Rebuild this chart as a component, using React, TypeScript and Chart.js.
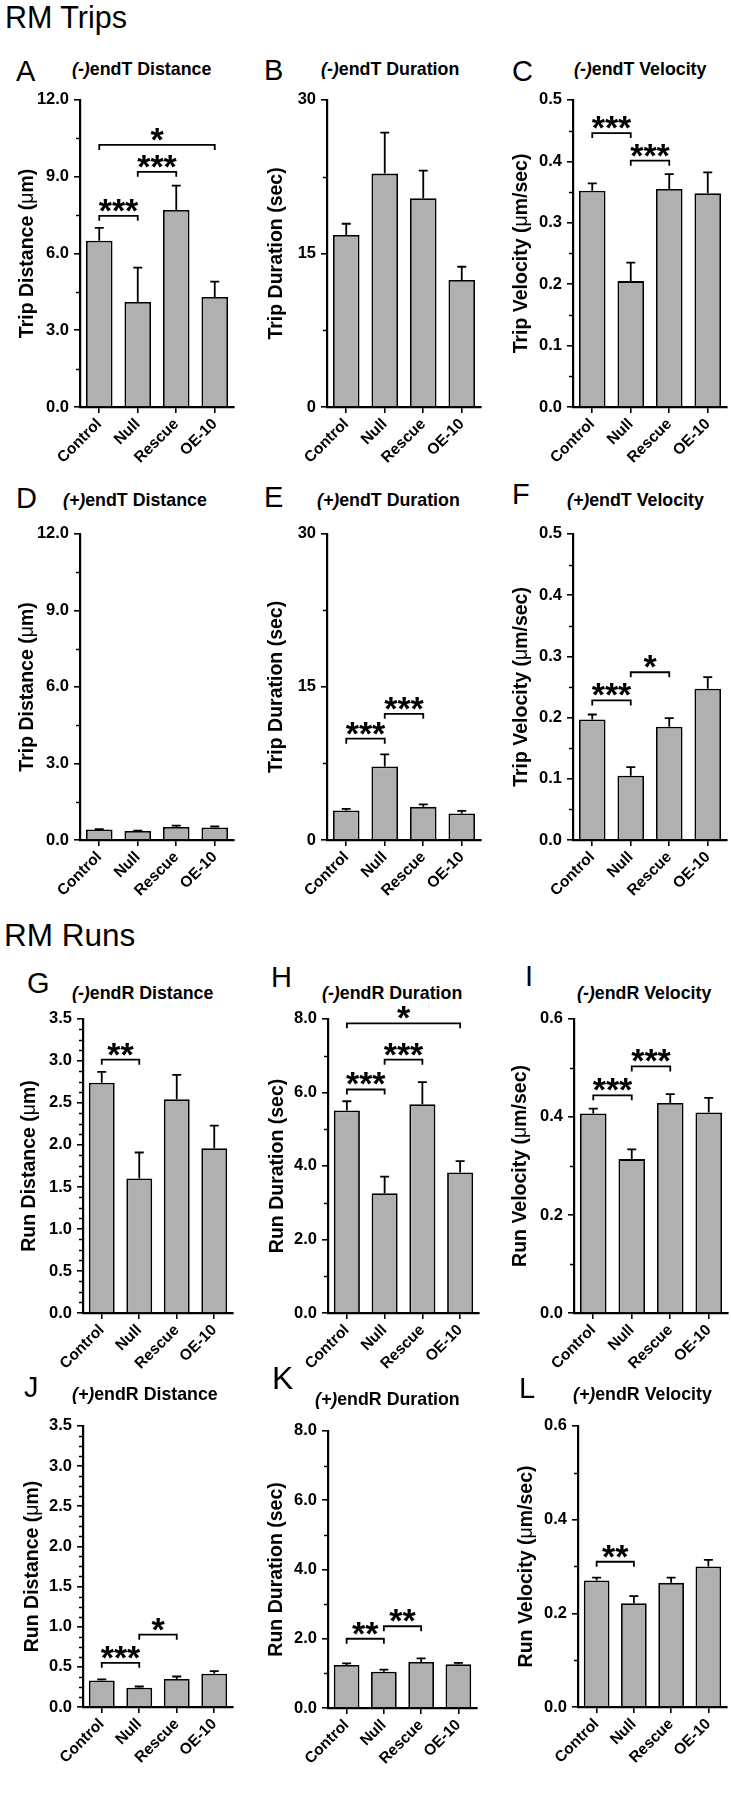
import React, { useEffect, useRef } from "react";
import { Chart, registerables } from "chart.js";

Chart.register(...registerables);

const FONT = '"Liberation Sans", Arial, Helvetica, sans-serif';

const categories = ["Control", "Null", "Rescue", "OE-10"];

// ---------- RM Trips ----------
const minusTripDistance = [6.5, 4.1, 7.7, 4.3];
const minusTripDistanceErr = [0.5, 1.35, 0.95, 0.6];
const minusTripDuration = [16.8, 22.8, 20.4, 12.4];
const minusTripDurationErr = [1.1, 4.0, 2.7, 1.3];
const minusTripVelocity = [0.352, 0.205, 0.355, 0.348];
const minusTripVelocityErr = [0.012, 0.03, 0.024, 0.034];
const plusTripDistance = [0.41, 0.35, 0.51, 0.49];
const plusTripDistanceErr = [0.02, 0.02, 0.05, 0.04];
const plusTripDuration = [2.9, 7.2, 3.25, 2.6];
const plusTripDurationErr = [0.15, 1.2, 0.25, 0.25];
const plusTripVelocity = [0.197, 0.105, 0.185, 0.247];
const plusTripVelocityErr = [0.008, 0.014, 0.014, 0.019];

// ---------- RM Runs ----------
const minusRunDistance = [2.74, 1.6, 2.545, 1.96];
const minusRunDistanceErr = [0.13, 0.31, 0.29, 0.27];
const minusRunDuration = [5.51, 3.26, 5.68, 3.82];
const minusRunDurationErr = [0.25, 0.45, 0.6, 0.31];
const minusRunVelocity = [0.407, 0.314, 0.4285, 0.409];
const minusRunVelocityErr = [0.01, 0.02, 0.018, 0.03];
const plusRunDistance = [0.33, 0.24, 0.35, 0.415];
const plusRunDistanceErr = [0.015, 0.015, 0.03, 0.032];
const plusRunDuration = [1.24, 1.045, 1.33, 1.26];
const plusRunDurationErr = [0.05, 0.065, 0.1, 0.04];
const plusRunVelocity = [0.27, 0.2215, 0.265, 0.3];
const plusRunVelocityErr = [0.006, 0.015, 0.011, 0.014];

// ---------- significance brackets: [from, to, height, label] ----------
const sigMinusTripDistance = [[0, 1, 7.47, "***"], [1, 2, 9.19, "***"], [0, 3, 10.24, "*"]];
const sigMinusTripDuration: any[] = [];
const sigMinusTripVelocity = [[0, 1, 0.446, "***"], [1, 2, 0.401, "***"]];
const sigPlusTripDistance: any[] = [];
const sigPlusTripDuration = [[0, 1, 9.93, "***"], [1, 2, 12.37, "***"]];
const sigPlusTripVelocity = [[0, 1, 0.228, "***"], [1, 2, 0.274, "*"]];
const sigMinusRunDistance = [[0, 1, 3.015, "**"]];
const sigMinusRunDuration = [[0, 3, 7.88, "*"], [1, 2, 6.89, "***"], [0, 1, 6.08, "***"]];
const sigMinusRunVelocity = [[0, 1, 0.444, "***"], [1, 2, 0.503, "***"]];
const sigPlusRunDistance = [[0, 1, 0.55, "***"], [1, 2, 0.9, "*"]];
const sigPlusRunDuration = [[0, 1, 2.0, "**"], [1, 2, 2.36, "**"]];
const sigPlusRunVelocity = [[0, 1, 0.31, "**"]];

// ---------- y tick values ----------
const tripDistanceTicks = [0, 3, 6, 9, 12];
const tripDurationTicks = [0, 15, 30];
const tripVelocityTicks = [0, 0.1, 0.2, 0.3, 0.4, 0.5];
const runDistanceTicks = [0, 0.5, 1, 1.5, 2, 2.5, 3, 3.5];
const runDurationTicks = [0, 2, 4, 6, 8];
const runVelocityTicks = [0, 0.2, 0.4, 0.6];

const colLeft = [0, 243, 488];
const colWidth = [243, 245, 243];

const Y_TITLE_SIZE = 19.5;

const decorPlugin: any = {
  id: "decor",
  afterDatasetsDraw(chart: any, _a: any, o: any) {
    const { ctx } = chart;
    const xs = chart.scales.x;
    const ys = chart.scales.y;
    ctx.save();
    ctx.strokeStyle = "#000";
    ctx.lineWidth = 1.8;
    ctx.lineJoin = "miter";
    o.values.forEach((v: number, i: number) => {
      const cx = xs.getPixelForValue(i);
      const y0 = ys.getPixelForValue(v);
      const y1 = ys.getPixelForValue(v + o.errors[i]);
      ctx.beginPath();
      ctx.moveTo(cx, y0);
      ctx.lineTo(cx, y1);
      ctx.moveTo(cx - 4.5, y1);
      ctx.lineTo(cx + 4.5, y1);
      ctx.stroke();
    });
    o.brackets.forEach((br: any) => {
      const [a, b, h, label] = br;
      const x1 = xs.getPixelForValue(a);
      const x2 = xs.getPixelForValue(b);
      const yy = ys.getPixelForValue(h);
      ctx.beginPath();
      ctx.moveTo(x1, yy + 5);
      ctx.lineTo(x1, yy);
      ctx.lineTo(x2, yy);
      ctx.lineTo(x2, yy + 5);
      ctx.stroke();
      ctx.font = `bold 34px ${FONT}`;
      ctx.fillStyle = "#000";
      ctx.textAlign = "center";
      ctx.textBaseline = "alphabetic";
      const m = ctx.measureText(label);
      const base = yy - 4 - m.actualBoundingBoxDescent;
      ctx.fillText(label, (x1 + x2) / 2, base);
    });
    ctx.restore();
  },
  afterDraw(chart: any, _a: any, o: any) {
    const { ctx, chartArea } = chart;
    const ys = chart.scales.y;
    ctx.save();
    ctx.strokeStyle = "#000";
    ctx.lineWidth = 1.5;
    const t = o.ticks;
    for (let k = 0; k < t.length - 1; k++) {
      for (let s = 1; s < o.minorDiv; s++) {
        const v = t[k] + ((t[k + 1] - t[k]) * s) / o.minorDiv;
        const py = Math.round(ys.getPixelForValue(v)) + 0.5;
        ctx.beginPath();
        ctx.moveTo(chartArea.left - 4, py);
        ctx.lineTo(chartArea.left, py);
        ctx.stroke();
      }
    }
    // y title with non-bold mu
    const parts = String(o.yTitle).split(/(μ)/).filter((p: string) => p.length);
    const fonts = parts.map((p: string) =>
      p === "μ" ? `${Y_TITLE_SIZE}px ${FONT}` : `bold ${Y_TITLE_SIZE}px ${FONT}`
    );
    const widths = parts.map((p: string, i: number) => {
      ctx.font = fonts[i];
      return ctx.measureText(p).width;
    });
    const total = widths.reduce((s: number, w: number) => s + w, 0);
    ctx.translate(o.yTitleX, (chartArea.top + chartArea.bottom) / 2);
    ctx.rotate(-Math.PI / 2);
    ctx.fillStyle = "#000";
    ctx.textAlign = "left";
    ctx.textBaseline = "middle";
    let x = -total / 2;
    parts.forEach((p: string, i: number) => {
      ctx.font = fonts[i];
      ctx.fillText(p, x, 0);
      x += widths[i];
    });
    ctx.restore();
  },
};

type PanelDef = {
  letter: string;
  sign: string;
  name: string;
  yTitle: string;
  values: number[];
  errors: number[];
  sig: any[];
  ticks: number[];
  dec: number;
  minorDiv: number;
  col: number;
  box: number[]; // l, r, t, b
  letterPos: number[]; // x, baseline, size
  titlePos: number[]; // x, baseline
  yTitleX: number;
};

const panels: PanelDef[] = [
  { letter: "A", sign: "(-)", name: "endT Distance", yTitle: "Trip Distance (μm)", values: minusTripDistance, errors: minusTripDistanceErr, sig: sigMinusTripDistance, ticks: tripDistanceTicks, dec: 1, minorDiv: 2, col: 0, box: [80, 234, 99, 407], letterPos: [16, 82, 29], titlePos: [72, 76], yTitleX: 28 },
  { letter: "B", sign: "(-)", name: "endT Duration", yTitle: "Trip Duration (sec)", values: minusTripDuration, errors: minusTripDurationErr, sig: sigMinusTripDuration, ticks: tripDurationTicks, dec: 0, minorDiv: 2, col: 1, box: [327, 481, 99, 407], letterPos: [264, 81, 29], titlePos: [321, 76], yTitleX: 276.5 },
  { letter: "C", sign: "(-)", name: "endT Velocity", yTitle: "Trip Velocity (μm/sec)", values: minusTripVelocity, errors: minusTripVelocityErr, sig: sigMinusTripVelocity, ticks: tripVelocityTicks, dec: 1, minorDiv: 2, col: 2, box: [573, 727, 99, 407], letterPos: [512, 82, 29], titlePos: [574, 76], yTitleX: 522 },
  { letter: "D", sign: "(+)", name: "endT Distance", yTitle: "Trip Distance (μm)", values: plusTripDistance, errors: plusTripDistanceErr, sig: sigPlusTripDistance, ticks: tripDistanceTicks, dec: 1, minorDiv: 2, col: 0, box: [80, 234, 533, 840], letterPos: [16, 509, 29], titlePos: [63, 507], yTitleX: 27.5 },
  { letter: "E", sign: "(+)", name: "endT Duration", yTitle: "Trip Duration (sec)", values: plusTripDuration, errors: plusTripDurationErr, sig: sigPlusTripDuration, ticks: tripDurationTicks, dec: 0, minorDiv: 2, col: 1, box: [327, 481, 533, 840], letterPos: [264, 508, 29], titlePos: [317, 507], yTitleX: 276.5 },
  { letter: "F", sign: "(+)", name: "endT Velocity", yTitle: "Trip Velocity (μm/sec)", values: plusTripVelocity, errors: plusTripVelocityErr, sig: sigPlusTripVelocity, ticks: tripVelocityTicks, dec: 1, minorDiv: 2, col: 2, box: [573, 727, 533, 840], letterPos: [512, 505, 29], titlePos: [567, 507], yTitleX: 521.5 },
  { letter: "G", sign: "(-)", name: "endR Distance", yTitle: "Run Distance (μm)", values: minusRunDistance, errors: minusRunDistanceErr, sig: sigMinusRunDistance, ticks: runDistanceTicks, dec: 1, minorDiv: 4, col: 0, box: [83, 233, 1018, 1313], letterPos: [27, 994, 29], titlePos: [72, 1000], yTitleX: 30 },
  { letter: "H", sign: "(-)", name: "endR Duration", yTitle: "Run Duration (sec)", values: minusRunDuration, errors: minusRunDurationErr, sig: sigMinusRunDuration, ticks: runDurationTicks, dec: 1, minorDiv: 2, col: 1, box: [328, 479, 1018, 1313], letterPos: [271, 988, 29], titlePos: [322, 1000], yTitleX: 278 },
  { letter: "I", sign: "(-)", name: "endR Velocity", yTitle: "Run Velocity (μm/sec)", values: minusRunVelocity, errors: minusRunVelocityErr, sig: sigMinusRunVelocity, ticks: runVelocityTicks, dec: 1, minorDiv: 2, col: 2, box: [574, 728, 1018, 1313], letterPos: [525, 987, 29], titlePos: [577, 1000], yTitleX: 521 },
  { letter: "J", sign: "(+)", name: "endR Distance", yTitle: "Run Distance (μm)", values: plusRunDistance, errors: plusRunDistanceErr, sig: sigPlusRunDistance, ticks: runDistanceTicks, dec: 1, minorDiv: 4, col: 0, box: [83, 233, 1425, 1707], letterPos: [24, 1398, 29], titlePos: [72, 1401], yTitleX: 32.5 },
  { letter: "K", sign: "(+)", name: "endR Duration", yTitle: "Run Duration (sec)", values: plusRunDuration, errors: plusRunDurationErr, sig: sigPlusRunDuration, ticks: runDurationTicks, dec: 1, minorDiv: 2, col: 1, box: [328, 477, 1430, 1708], letterPos: [272, 1389, 32], titlePos: [315, 1406], yTitleX: 277 },
  { letter: "L", sign: "(+)", name: "endR Velocity", yTitle: "Run Velocity (μm/sec)", values: plusRunVelocity, errors: plusRunVelocityErr, sig: sigPlusRunVelocity, ticks: runVelocityTicks, dec: 1, minorDiv: 2, col: 2, box: [578, 727, 1425, 1707], letterPos: [519, 1399, 29], titlePos: [573, 1401], yTitleX: 526.5 },
];

const PAD_TOP = 14;
const X_AXIS_H = 64;

function Panel({ p }: { p: PanelDef }) {
  const ref = useRef<HTMLCanvasElement>(null);
  const [l, r, t, b] = p.box;
  const cl = colLeft[p.col];
  const cw = colWidth[p.col];
  const top = t - PAD_TOP;
  const height = b + X_AXIS_H - top;

  useEffect(() => {
    const chart = new Chart(ref.current as HTMLCanvasElement, {
      type: "bar",
      data: {
        labels: categories,
        datasets: [
          {
            data: p.values,
            backgroundColor: "#b0b0b0",
            borderColor: "#000",
            borderWidth: 1.8,
            barPercentage: 0.69,
            categoryPercentage: 1,
          },
        ],
      },
      options: {
        animation: false,
        responsive: false,
        maintainAspectRatio: false,
        events: [],
        layout: { padding: { top: PAD_TOP, right: cl + cw - r, left: 0, bottom: 0 } },
        plugins: {
          legend: { display: false },
          tooltip: { enabled: false },
          title: { display: false },
          decor: {
            values: p.values,
            errors: p.errors,
            brackets: p.sig,
            ticks: p.ticks,
            minorDiv: p.minorDiv,
            yTitle: p.yTitle,
            yTitleX: p.yTitleX - cl,
          },
        } as any,
        scales: {
          x: {
            grid: { display: true, offset: false, drawOnChartArea: false, drawTicks: true, tickLength: 6, color: "#000", lineWidth: 1.6 },
            border: { display: true, color: "#000", width: 2.2 },
            ticks: { color: "#000", font: { family: FONT, size: 15.5, weight: "bold" }, minRotation: 45, maxRotation: 45, autoSkip: false, padding: 2 },
            afterFit: (s: any) => {
              s.height = X_AXIS_H;
            },
          },
          y: {
            min: p.ticks[0],
            max: p.ticks[p.ticks.length - 1],
            afterBuildTicks: (s: any) => {
              s.ticks = p.ticks.map((v) => ({ value: v }));
            },
            ticks: {
              color: "#000",
              font: { family: FONT, size: 16.5, weight: "bold" },
              padding: 5,
              callback: (v: any) => Number(v).toFixed(p.dec),
            },
            grid: { display: true, drawOnChartArea: false, drawTicks: true, tickLength: 6, color: "#000", lineWidth: 1.6 },
            border: { display: true, color: "#000", width: 2.2 },
            afterFit: (s: any) => {
              s.width = l - cl;
            },
          },
        },
      } as any,
      plugins: [decorPlugin],
    });
    return () => chart.destroy();
  }, []);

  return (
    <canvas
      ref={ref}
      width={cw}
      height={height}
      style={{ position: "absolute", left: cl, top, width: cw, height }}
    />
  );
}

function TextAt({ x, baseline, size, bold, children }: any) {
  return (
    <div
      style={{
        position: "absolute",
        left: x,
        top: baseline - 0.8465 * size,
        fontSize: size,
        lineHeight: `${size}px`,
        fontFamily: FONT,
        fontWeight: bold ? "bold" : "normal",
        whiteSpace: "nowrap",
        color: "#000",
      }}
    >
      {children}
    </div>
  );
}

export default function App() {
  useEffect(() => {
    document.body.style.margin = "0";
    document.body.style.background = "#fff";
  }, []);
  return (
    <div style={{ position: "absolute", left: 0, top: 0, width: 731, height: 1800, background: "#fff", overflow: "hidden" }}>
      <TextAt x={5} baseline={28} size={30.5}>RM Trips</TextAt>
      <TextAt x={4} baseline={947} size={31.5}>RM Runs</TextAt>
      {panels.map((p) => (
        <React.Fragment key={p.letter}>
          <TextAt x={p.letterPos[0]} baseline={p.letterPos[1]} size={p.letterPos[2]}>
            {p.letter}
          </TextAt>
          <TextAt x={p.titlePos[0]} baseline={p.titlePos[1]} size={17.8} bold>
            <span style={{ fontStyle: "italic" }}>{p.sign}</span>
            {p.name}
          </TextAt>
          <Panel p={p} />
        </React.Fragment>
      ))}
    </div>
  );
}
